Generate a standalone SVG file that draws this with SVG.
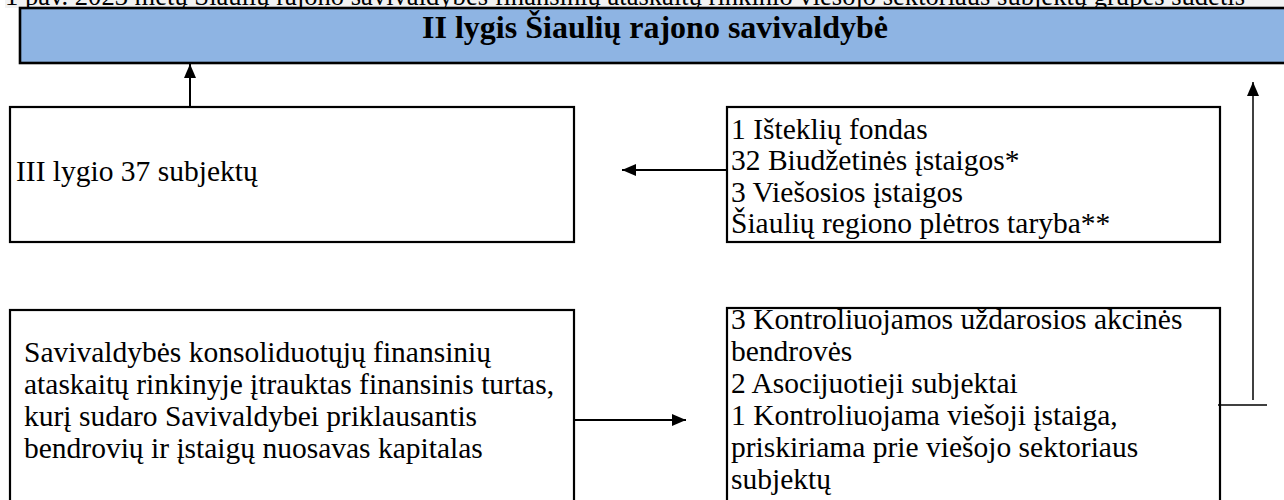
<svg xmlns="http://www.w3.org/2000/svg" width="1284" height="500" viewBox="0 0 1284 500">
  <style>
    .box { fill: #ffffff; stroke: #000000; stroke-width: 2.2; }
    .hdr { fill: #8EB4E3; stroke: #000000; stroke-width: 2.6; }
    .t { font-family: "Liberation Serif", "Times New Roman", serif; font-size: 29.5px; fill: #000000; }
    .title { font-family: "Liberation Serif", "Times New Roman", serif; font-size: 32px; font-weight: bold; fill: #000000; }
    .cap { font-family: "Liberation Serif", "Times New Roman", serif; font-size: 27px; fill: #000000; }
    .conn { stroke: #000000; stroke-width: 2; fill: none; }
    .thin { stroke: #000000; stroke-width: 1.5; fill: none; }
  </style>
  <defs>
    <marker id="ah" viewBox="0 0 14 12" refX="14" refY="6" markerWidth="14" markerHeight="12" markerUnits="userSpaceOnUse" orient="auto">
      <path d="M0,0 L14,6 L0,12 Z" fill="#000000"/>
    </marker>
  </defs>
  <rect x="0" y="0" width="1284" height="500" fill="#ffffff"/>

  <g id="caption">
    <rect x="5" y="0" width="1279" height="8" fill="#f2f2f2"/>
    <text class="cap" x="5" y="5" textLength="1240" lengthAdjust="spacingAndGlyphs">1 pav. 2023 metų Šiaulių rajono savivaldybės finansinių ataskaitų rinkinio viešojo sektoriaus subjektų grupės sudėtis</text>
  </g>

  <g id="header">
    <rect class="hdr" x="20" y="8" width="1280" height="55"/>
    <text class="title" x="655" y="38" text-anchor="middle">II lygis Šiaulių rajono savivaldybė</text>
  </g>

  <g id="level3">
    <rect class="box" x="10" y="107" width="564" height="135"/>
    <text class="t" x="16" y="181">III lygio 37 subjektų</text>
  </g>

  <g id="entities">
    <rect class="box" x="727" y="107" width="493" height="135"/>
    <text class="t" x="731" y="139">1 Išteklių fondas</text>
    <text class="t" x="731" y="170">32 Biudžetinės įstaigos*</text>
    <text class="t" x="731" y="202">3 Viešosios įstaigos</text>
    <text class="t" x="731" y="233">Šiaulių regiono plėtros taryba**</text>
  </g>

  <g id="financial-assets">
    <rect class="box" x="10" y="310" width="564" height="220"/>
    <text class="t" x="24" y="362">Savivaldybės konsoliduotųjų finansinių</text>
    <text class="t" x="24" y="394">ataskaitų rinkinyje įtrauktas finansinis turtas,</text>
    <text class="t" x="24" y="426">kurį sudaro Savivaldybei priklausantis</text>
    <text class="t" x="24" y="458">bendrovių ir įstaigų nuosavas kapitalas</text>
  </g>

  <g id="controlled">
    <rect class="box" x="727" y="308" width="493" height="222"/>
    <text class="t" x="731" y="329">3 Kontroliuojamos uždarosios akcinės</text>
    <text class="t" x="731" y="361">bendrovės</text>
    <text class="t" x="731" y="393">2 Asocijuotieji subjektai</text>
    <text class="t" x="731" y="425">1 Kontroliuojama viešoji įstaiga,</text>
    <text class="t" x="731" y="457">priskiriama prie viešojo sektoriaus</text>
    <text class="t" x="731" y="489">subjektų</text>
  </g>

  <g id="connectors">
    <line class="conn" x1="190" y1="106" x2="190" y2="64" marker-end="url(#ah)"/>
    <line class="conn" x1="727" y1="170" x2="622" y2="170" marker-end="url(#ah)"/>
    <line class="conn" x1="575" y1="420" x2="686" y2="420" marker-end="url(#ah)"/>
    <line class="thin" x1="1218" y1="405" x2="1267" y2="405"/>
    <line class="thin" x1="1253" y1="400" x2="1253" y2="82" marker-end="url(#ah)"/>
  </g>
</svg>
